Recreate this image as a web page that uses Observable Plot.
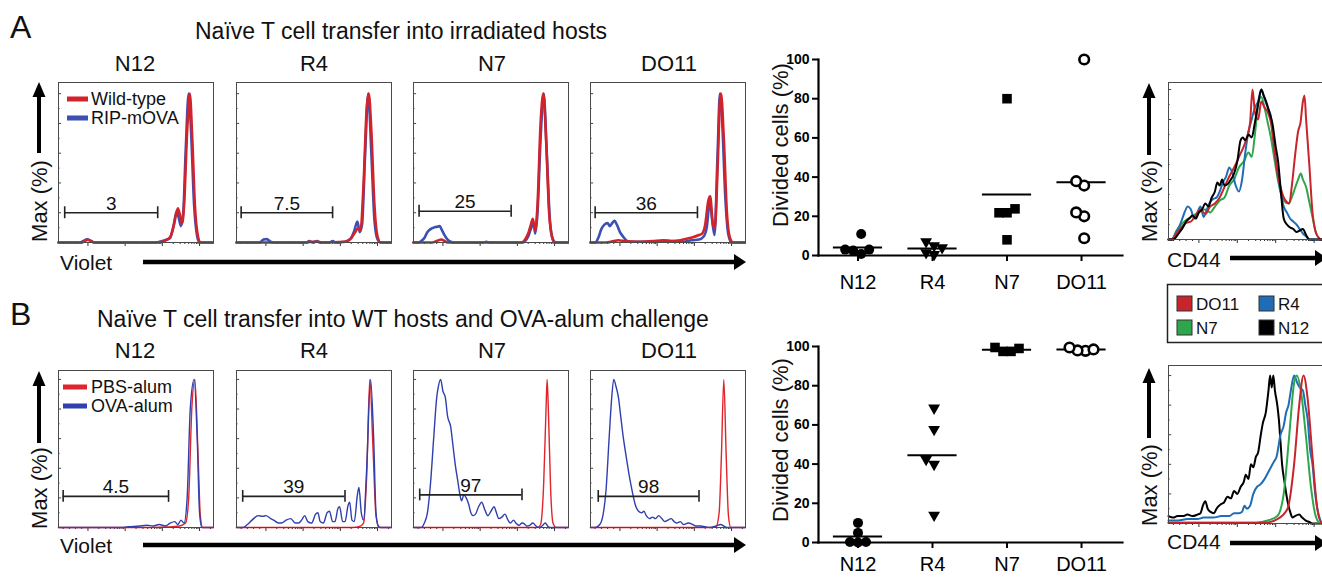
<!DOCTYPE html>
<html><head><meta charset="utf-8">
<script src="https://cdn.jsdelivr.net/npm/d3@7"></script>
<script src="https://cdn.jsdelivr.net/npm/@observablehq/plot@0.6"></script>
<style>
html,body{margin:0;padding:0;background:#fff;}
#fig{position:relative;width:1322px;height:578px;overflow:hidden;background:#fff;}
#fig svg{position:absolute;}
</style></head><body><div id="fig"></div>
<script>
// ---------------- DATA ----------------
const cats = ["N12", "R4", "N7", "DO11"];

// Panel A histograms (Violet dilution): [channel %, % of max]
const aN12WT  = [[0,0],[15,0],[17,1],[19,1.8],[21,1],[23,0],[63,0],[67,0.5],[70,2],[72,3.5],[74.5,12],[77,23],[78.5,18],[79.8,13],[81,25],[83,75],[84.7,100],[86.3,70],[88,25],[90,4],[91.5,0],[100,0]];
const aN12RIP = [[0,0],[14,0],[16,1],[18.5,2.2],[21,1],[23,0],[62,0],[67,1],[70,2],[72,3],[74,10],[76.3,21],[77.5,17],[79,11],[80.5,20],[82,60],[84,100],[85.5,75],[87.5,25],[89.5,4],[91,0],[100,0]];
const aR4WT   = [[0,0],[45,0],[48,0.5],[52,0.5],[55,0],[70,0.5],[74,3],[76,6],[78.5,9.5],[80,8],[82,40],[84,90],[85.3,100],[87,75],[89,25],[91,4],[93,0],[100,0]];
const aR4RIP  = [[0,0],[15,0],[17.5,2],[19.5,2.3],[22,0.5],[24,0],[45,0],[47,1],[49,0],[52,1],[54,0],[60,0],[62,1],[64,0],[70,0.5],[74,3],[76,8],[78,14],[79.5,7],[81,12],[83,60],[85,100],[87,60],[89,15],[91,2],[93,0],[100,0]];
const aN7WT   = [[0,0],[12,0],[15,1],[18,2],[20,1],[22,0],[70,0],[72,2],[74,6],[76,13],[77,16],[78.5,8],[80,25],[82,80],[83.8,100],[85.5,70],[87.5,20],[89.5,3],[91,0],[100,0]];
const aN7RIP  = [[0,0],[3,0],[5,1],[7,3],[9,7],[11,9],[13,10],[15,10.5],[17,11],[18,9],[20,5],[22,2],[24,0.5],[26,0],[45,0],[47,0.5],[49,0],[70,0],[72,1],[74,4],[76,10],[77.5,13],[78.5,6],[80,20],[82,70],[84,100],[86,60],[88,15],[90,2],[92,0],[100,0]];
const aDO11WT = [[0,0],[10,0],[15,1],[18,1.5],[22,1],[30,0.5],[40,1],[47,1.5],[52,1],[58,1.5],[62,2.5],[66,3.5],[70,5],[72,6],[74,12],[76,28],[77.2,31],[79,12],[80.2,10],[82,50],[83.5,95],[84.2,100],[86,70],[88,20],[90,3],[92,0],[100,0]];
const aDO11RIP= [[0,0],[3,0],[5,3],[7,9],[9,12],[11,13],[12.5,11],[14,13],[15.5,14.5],[17,12],[19,7],[21,4],[23,1.5],[26,0.5],[40,0.5],[50,1],[60,0.5],[65,1.5],[70,2],[73,4],[75,10],[77,28],[78.5,15],[80,5],[82,60],[83.5,100],[85,80],[87,30],[89,5],[91,0],[100,0]];

// Panel B histograms
const bN12PBS = [[0,0],[60,0],[70,0.3],[78,1],[82,3],[84,20],[86,80],[88,100],[90,50],[91.5,8],[93,0],[100,0]];
const bN12OVA = [[0,0],[40,0],[45,0.5],[52,1],[57,1.5],[61,1],[65,2],[69,1],[72,3],[75,4],[77,2],[79,5],[81,3],[83,20],[85,80],[87.5,100],[89.5,60],[91,10],[92.5,0],[100,0]];
const bR4PBS  = [[0,0],[75,0],[79,0.5],[82,3],[84,35],[86,100],[88,55],[90,8],[92,0],[100,0]];
const bR4OVA  = [[0,0],[4,0],[7,2],[10,5],[14,8],[17,7.5],[19,8],[22,6],[24,5],[27,3],[29,3],[32,5],[35,6],[38,3],[40,3],[42,5],[44,8],[46,4],[48.5,3],[51,9],[52.5,10],[54,4],[56,3],[58.5,10],[60,11],[62,4],[63.5,4],[65.5,13],[66.5,14],[68.5,4],[70,4],[72,15],[73,17],[74.5,5],[76,4],[78,22],[79,27],[80.5,10],[82,5],[84,40],[86.5,100],[88.5,60],[90,10],[91.5,1],[93,0],[100,0]];
const bN7PBS  = [[0,0],[80,0],[82,2],[84,30],[85.5,80],[86.2,100],[87,80],[88.5,25],[90,3],[92,0],[100,0]];
const bN7OVA  = [[0,0],[5,0],[7,3],[9,10],[11,30],[13,60],[15,88],[16,95],[17.5,100],[19,92],[20.5,88],[22,75],[24,68],[25.5,55],[27,42],[28.5,32],[30,22],[31,18],[32.5,22],[34,20],[35.5,16],[37,10],[38.5,8],[40,9],[42,14],[44,17],[46,12],[48,8],[50,11],[52,14],[53.5,10],[55,6],[57,7],[59,9],[61,5],[62.5,3],[64.5,5],[66,3],[68,1.5],[70,3],[71.5,2.5],[73,1],[75,1.5],[77,3],[79,1],[81,0],[83,1],[85,3],[87,0.5],[89,0],[100,0]];
const bDO11PBS= [[0,0],[78,0],[81,0.5],[83,10],[84.5,50],[86,100],[87.5,50],[89,8],[90.5,0],[100,0]];
const bDO11OVA= [[0,0],[3,0],[6,2],[8,8],[10,25],[12,60],[13.5,85],[15,100],[16.5,95],[18,88],[19.5,75],[21,62],[23,48],[25,35],[27,24],[29,15],[31,11],[33,10],[34.5,11],[36,8],[38,6],[40,7],[42,6],[44,8],[46,6],[48,4],[50,5],[52,6],[54,4],[55.5,3],[58,4],[60,2],[63,3],[66,2],[68,1],[71,1],[74,0.5],[77,0],[81,1],[84,2],[86,1],[88,0],[100,0]];

// Gates (channel %) and divided-cell percentages
const gateLeftA  = [4, 3, 3.6, 3];
const gateRightA = [64, 62, 63, 69];
const gateLevelA = [20, 20, 21, 20];
const gateLabelA = ["3", "7.5", "25", "36"];
const gateLeftB  = [3, 4, 4, 5];
const gateRightB = [71, 70, 70, 70];
const gateLevelB = [21, 21, 22, 21];
const gateLabelB = ["4.5", "39", "97", "98"];

// Divided cells (%) per mouse
const divA_N12  = [11, 3, 0.8, 2.5, 3];
const divA_R4   = [4, 7, 0.5, 5, 1.5];
const divA_N7   = [80, 21.8, 21.8, 23.8, 8];
const divA_DO11 = [100, 35.7, 37.9, 22, 20, 8.8];
const divB_N12  = [10, 4.9, 0.3, 0, 0.3];
const divB_R4   = [68.6, 57.7, 42.4, 39.9, 13.9];
const divB_N7   = [99.5, 97.5, 97.5, 99];
const divB_DO11 = [98, 98.5, 99.5, 97.8];
const divTicks  = [0, 20, 40, 60, 80, 100];

// CD44 histograms: [channel %, % of max]
const cdA_DO11 = [[0,0],[2,0],[5,4],[8,8],[11,11],[14,12],[17,16],[20,20],[23,17],[26,22],[29,24],[32,28],[35,35],[38,42],[41,48],[44,55],[47,62],[49,68],[51,78],[52.5,100],[54,85],[56,80],[58,92],[60,88],[62,85],[64,78],[66,62],[68,45],[70,35],[72,28],[74,25],[75.5,24],[77,35],[79,55],[81,72],[82.5,78],[84,92],[85,96],[86,80],[88,50],[90,18],[92,5],[94,1],[95,0],[100,0]];
const cdA_N7   = [[0,0],[2,0],[5,6],[8,10],[11,13],[14,15],[17,17],[20,19],[23,20],[26,18],[29,22],[32,26],[35,28],[38,36],[41,40],[44,48],[47,52],[50,58],[52,55],[54,70],[56,90],[58,95],[60,88],[62,78],[64,68],[66,55],[68,42],[70,32],[72,26],[75,24],[77,28],[79,34],[81,40],[82.7,44],[84,40],[86,35],[88,25],[90,15],[92,5],[94,1],[95,0],[100,0]];
const cdA_R4   = [[0,0],[2,0],[5,5],[8,12],[10,18],[12,22],[14,20],[16,14],[18,18],[20,22],[22,15],[24,20],[26,25],[28,27],[30,28],[32,32],[34,38],[36,42],[38,48],[40,44],[42,36],[44,32],[46,40],[48,58],[50,72],[52,80],[54,88],[56,92],[58,100],[60,94],[62,88],[64,82],[66,62],[68,45],[70,32],[72,22],[74,18],[76,14],[78,12],[80,10],[82,7],[84,4],[86,2],[88,0],[100,0]];
const cdA_N12  = [[0,0],[3,0],[5,2],[7,5],[9,8],[11,12],[13,14],[15,16],[17,14],[19,18],[21,20],[23,24],[25,22],[27,28],[29,32],[30.5,38],[32,36],[33.5,40],[35,36],[37,37],[39,40],[41,44],[43,52],[45,66],[46.5,68],[48,66],[50,70],[52,68],[54,78],[56,90],[58,100],[59.5,96],[61,92],[63,85],[65,77],[67,62],[68.5,52],[70,35],[72,14],[74,10],[76,8],[78,7],[80,5],[82,6],[84,7],[86,3],[88,0],[100,0]];
const cdB_DO11 = [[0,0.5],[60,0.5],[68,3],[74.4,10],[78.5,40],[81.7,80],[84.4,100],[86.9,85],[90,45],[93,10],[96,0],[100,0]];
const cdB_N7   = [[0,0.5],[55,0.5],[62,2],[68,5],[72,20],[75.5,60],[78.5,95],[80.2,100],[82.7,90],[85.8,60],[89,25],[92,5],[95,0],[100,0]];
const cdB_R4   = [[0,2],[6,2],[12,3],[18,3],[22,4],[28,4],[33,5],[38,5],[41,7],[44,7],[46,8],[47.5,12],[49,10],[51,12],[53,20],[55.5,25],[57,26],[60,30],[62,34],[64,38],[66,42],[67.5,45],[70,60],[72,66],[73.5,75],[75,80],[76.5,90],[78.5,100],[80.5,95],[82,92],[84,90],[85.5,80],[87,70],[88.5,50],[90,40],[91.5,22],[93,10],[95,2],[96.5,0],[100,0]];
const cdB_N12  = [[0,5],[3,4],[5.6,5],[9,5],[11.9,6],[15,5],[18,6],[20,7],[21.5,12],[23,15],[24.5,10],[26,8],[28.5,7],[30,10],[32.7,13],[34.5,14],[36.9,18],[39,17],[41,22],[43,20],[45.2,25],[47,28],[48.3,33],[50,30],[51.5,40],[53,38],[54.6,45],[56,48],[57.7,60],[59,68],[60.8,75],[62.5,90],[63.5,100],[64.5,92],[65.5,100],[66.5,90],[68,80],[69,70],[70,55],[71,40],[72.5,28],[74.4,15],[76,8],[77.5,4],[79,5],[81.7,6],[83.5,4],[85.8,2],[88,1],[90,0],[100,0]];

// axis tick positions for flow histograms
const xMajorTicks = [19, 43, 67, 91];
const xMinorTicks = [3,7,11,15,26,30.5,33.5,36,38,39.5,41,42,50,54.5,57.5,60,62,63.5,65,66,74,78.5,81.5,84,86,87.5,89,90,98];
const yMajorTicks = [0,20,40,60,80,100];
const yMinorTicks = [10,30,50,70,90];

// ---------------- STYLE / LAYOUT ----------------
const FONT = "'Liberation Sans', Arial, Helvetica, sans-serif";
const RED_A = "#d2232a", BLUE_A = "#3c4fb4", RED_B = "#e0242b", BLUE_B = "#2f3fae";
const CD_RED = "#c8242b", CD_BLUE = "#1f6db4", CD_GREEN = "#2ea64c", CD_BLACK = "#000";
const fig = document.getElementById("fig");
function place(el, left, top, z = 1) { el.style.left = left + "px"; el.style.top = top + "px"; el.style.zIndex = z; fig.appendChild(el); }

function histPlot({series, gate, ymax, w, h, lw}) {
  const marks = [
    Plot.axisX({ticks: xMajorTicks, tickSize: 4, tickFormat: () => "", label: null, stroke: "#333"}),
    Plot.axisX({ticks: xMinorTicks, tickSize: 2, tickFormat: () => "", label: null, stroke: "#333"}),
    Plot.axisY({ticks: [], label: null, tickFormat: () => ""}),
    Plot.ruleY(yMajorTicks, {x1: 0, x2: 2, stroke: "#444"}),
    Plot.ruleY(yMinorTicks, {x1: 0, x2: 1, stroke: "#444"}),
    ...series.map(s => Plot.line(s.data, {x: d => d[0], y: d => d[1], stroke: s.color, strokeWidth: lw, curve: "monotone-x"}))
  ];
  if (gate) {
    const g = [gate];
    marks.push(
      Plot.ruleY(g, {x1: "x1", x2: "x2", y: "y", stroke: "#222", strokeWidth: 1.6}),
      Plot.ruleX(g, {x: "x1", y1: d => d.y - 4, y2: d => d.y + 4, stroke: "#222", strokeWidth: 1.6}),
      Plot.ruleX(g, {x: "x2", y1: d => d.y - 4, y2: d => d.y + 4, stroke: "#222", strokeWidth: 1.6}),
      Plot.text(g, {x: d => (d.x1 + d.x2) / 2, y: "y", text: "label", dy: -3, lineAnchor: "bottom", fontSize: 19, fill: "#111"})
    );
  }
  marks.push(Plot.frame({stroke: "#4a4a4a", strokeWidth: 1}));
  return Plot.plot({
    width: w + 2, height: h + 9, marginLeft: 1, marginRight: 1, marginTop: 1, marginBottom: 8,
    x: {domain: [0, 100]}, y: {domain: [0, ymax]},
    style: {fontFamily: FONT, background: "transparent"},
    marks
  });
}

// Row A & B flow panels
const panelLefts = [58, 236, 413, 590];
const aSeries = [[aN12RIP, aN12WT], [aR4RIP, aR4WT], [aN7RIP, aN7WT], [aDO11RIP, aDO11WT]];
const bSeries = [[bN12PBS, bN12OVA], [bR4PBS, bR4OVA], [bN7PBS, bN7OVA], [bDO11PBS, bDO11OVA]];
cats.forEach((c, i) => {
  const pa = histPlot({
    series: [{data: aSeries[i][0], color: BLUE_A}, {data: aSeries[i][1], color: RED_A}],
    gate: {x1: gateLeftA[i], x2: gateRightA[i], y: gateLevelA[i], label: gateLabelA[i]},
    ymax: 107.5, w: 155, h: 160, lw: 2.6
  });
  place(pa, panelLefts[i] - 1, 82 - 1);
  const pb = histPlot({
    series: [{data: bSeries[i][0], color: RED_B}, {data: bSeries[i][1], color: BLUE_B}],
    gate: {x1: gateLeftB[i], x2: gateRightB[i], y: gateLevelB[i], label: gateLabelB[i]},
    ymax: 106, w: 155, h: 157, lw: 1.4
  });
  place(pb, panelLefts[i] - 1, 370 - 1);
});

// CD44 panels
const cdA = histPlot({series: [{data: cdA_N7, color: CD_GREEN}, {data: cdA_R4, color: CD_BLUE}, {data: cdA_DO11, color: CD_RED}, {data: cdA_N12, color: CD_BLACK}], ymax: 104.7, w: 160, h: 157, lw: 2});
place(cdA, 1167, 81);
const cdB = histPlot({series: [{data: cdB_N12, color: CD_BLACK}, {data: cdB_R4, color: CD_BLUE}, {data: cdB_N7, color: CD_GREEN}, {data: cdB_DO11, color: CD_RED}], ymax: 106.8, w: 160, h: 158, lw: 2});
place(cdB, 1167, 364);

// Scatter plots
const symStyles = [
  {symbol: "circle", fill: "#000", stroke: "none", r: 5, rotate: 0},
  {symbol: "triangle", fill: "#000", stroke: "none", r: 4.4, rotate: 180},
  {symbol: "square", fill: "#000", stroke: "none", r: 5.4, rotate: 0},
  {symbol: "circle", fill: "#fff", stroke: "#000", r: 4.8, rotate: 0, strokeWidth: 2.6}
];
function scatterPlot(groups, pad, mB) {
  const W = 304, H = 196, mL = 60, mR = 12, mT = 10;
  const xdom = [-0.53, 3.55];
  const pxX = W / (xdom[1] - xdom[0]), pxY = H / 100;
  const pts = [];
  groups.forEach((vals, i) => {
    const placed = [];
    [...vals].sort((a, b) => a - b).forEach(v => {
      const yp = v * pxY;
      for (let k = 0; k < 50; k++) {
        const off = k === 0 ? 0 : (k % 2 ? -1 : 1) * Math.ceil(k / 2) * 8;
        if (placed.every(p => Math.hypot(p.off - off, p.yp - yp) >= 8)) { placed.push({v, yp, off}); break; }
      }
    });
    const m = d3.mean(placed, p => p.off);
    placed.forEach(p => pts.push({g: i, v: p.v, x: i + (p.off - m) / pxX}));
  });
  const means = groups.map((vals, i) => ({i, m: d3.mean(vals)}));
  return Plot.plot({
    width: mL + W + mR, height: mT + H + mB, marginLeft: mL, marginRight: mR, marginTop: mT, marginBottom: mB,
    x: {domain: xdom}, y: {domain: [0, 100]},
    style: {fontFamily: FONT, background: "transparent", color: "#000"},
    marks: [
      Plot.axisY({ticks: divTicks, tickSize: 6, tickPadding: 3, fontSize: 14, fontWeight: "bold", label: null, strokeWidth: 2}),
      Plot.axisX({ticks: [0, 1, 2, 3], tickFormat: i => cats[i], tickSize: 6, tickPadding: pad, fontSize: 20, label: null, strokeWidth: 2}),
      Plot.frame({anchor: "left", strokeWidth: 2.2}),
      Plot.frame({anchor: "bottom", strokeWidth: 2.2}),
      Plot.ruleY(means, {y: "m", x1: d => d.i - 0.33, x2: d => d.i + 0.33, strokeWidth: 2}),
      ...symStyles.map((s, i) => Plot.dot(pts.filter(p => p.g === i), {x: "x", y: "v", ...s}))
    ]
  });
}
const scA = scatterPlot([divA_N12, divA_R4, divA_N7, divA_DO11], 13, 38);
place(scA, 818 - 60, 59 - 10, 2);
const scB = scatterPlot([divB_N12, divB_R4, divB_N7, divB_DO11], 8, 32);
place(scB, 818 - 60, 346 - 10, 2);

// ---------------- TEXT / ANNOTATIONS ----------------
const ov = d3.select("#fig").append("svg").attr("width", 1322).attr("height", 578)
  .style("left", "0px").style("top", "0px").style("z-index", 5).style("pointer-events", "none")
  .style("font-family", FONT);
function txt(s, x, y, size, anchor = "start", rot = 0, weight = "normal") {
  const t = ov.append("text").text(s).attr("font-size", size).attr("text-anchor", anchor).attr("fill", "#111").attr("font-weight", weight);
  if (rot) t.attr("transform", `translate(${x},${y}) rotate(${rot})`); else t.attr("x", x).attr("y", y);
  return t;
}
function hArrow(x1, x2, y, w = 4.5, head = 12, hw = 8) {
  ov.append("line").attr("x1", x1).attr("x2", x2 - head + 1).attr("y1", y).attr("y2", y).attr("stroke", "#000").attr("stroke-width", w);
  ov.append("path").attr("d", `M${x2},${y}L${x2 - head},${y - hw}L${x2 - head},${y + hw}Z`).attr("fill", "#000");
}
function vArrow(x, yTip, yEnd, w = 4, head = 15, hw = 6.5) {
  ov.append("line").attr("x1", x).attr("x2", x).attr("y1", yTip + head - 1).attr("y2", yEnd).attr("stroke", "#000").attr("stroke-width", w);
  ov.append("path").attr("d", `M${x},${yTip}L${x - hw},${yTip + head}L${x + hw},${yTip + head}Z`).attr("fill", "#000");
}

txt("A", 10, 38, 32);
txt("B", 10, 325, 32);
txt("Naïve T cell transfer into irradiated hosts", 195, 39, 23);
txt("Naïve T cell transfer into WT hosts and OVA-alum challenge", 97, 327, 23);
const titleCenters = [135, 314, 492, 669];
cats.forEach((c, i) => { txt(c, titleCenters[i], 71, 22, "middle"); txt(c, titleCenters[i], 358, 22, "middle"); });

// Max (%) axis labels
vArrow(39, 82, 153); txt("Max (%)", 47, 201, 22, "middle", -90);
vArrow(39, 371, 443); txt("Max (%)", 47, 488, 22, "middle", -90);
vArrow(1149, 83, 155); txt("Max (%)", 1157, 201, 22, "middle", -90);
vArrow(1149, 368, 438); txt("Max (%)", 1157, 485, 22, "middle", -90);

// Violet / CD44 axes
txt("Violet", 60, 270, 21); hArrow(143, 746, 262);
txt("Violet", 60, 553, 21); hArrow(143, 746, 545);
txt("CD44", 1167, 267, 21); hArrow(1230, 1327, 258);
txt("CD44", 1167, 549, 21); hArrow(1230, 1327, 543);

// Divided cells labels
txt("Divided cells (%)", 788, 145, 22, "middle", -90);
txt("Divided cells (%)", 788, 440, 22, "middle", -90);

// Histogram legends
const legA = [["Wild-type", RED_A, 99], ["RIP-mOVA", BLUE_A, 118]];
legA.forEach(([s, c, y]) => { ov.append("rect").attr("x", 67).attr("y", y - 2.5).attr("width", 21).attr("height", 5).attr("fill", c); txt(s, 91, y + 6, 18); });
const legB = [["PBS-alum", RED_B, 387], ["OVA-alum", BLUE_B, 406]];
legB.forEach(([s, c, y]) => { ov.append("rect").attr("x", 63).attr("y", y - 2.5).attr("width", 24).attr("height", 5).attr("fill", c); txt(s, 91, y + 6, 18); });

// CD44 legend box
ov.append("rect").attr("x", 1167.5).attr("y", 284.5).attr("width", 170).attr("height", 58).attr("fill", "none").attr("stroke", "#222").attr("stroke-width", 1.5);
const cdLeg = [["DO11", CD_RED, 1177, 296], ["R4", CD_BLUE, 1259, 296], ["N7", CD_GREEN, 1177, 320], ["N12", CD_BLACK, 1259, 320]];
cdLeg.forEach(([s, c, x, y]) => {
  ov.append("rect").attr("x", x).attr("y", y).attr("width", 15).attr("height", 15).attr("fill", c).attr("stroke", "#333").attr("stroke-width", 1);
  txt(s, x + 19, y + 14, 17);
});
</script></body></html>
